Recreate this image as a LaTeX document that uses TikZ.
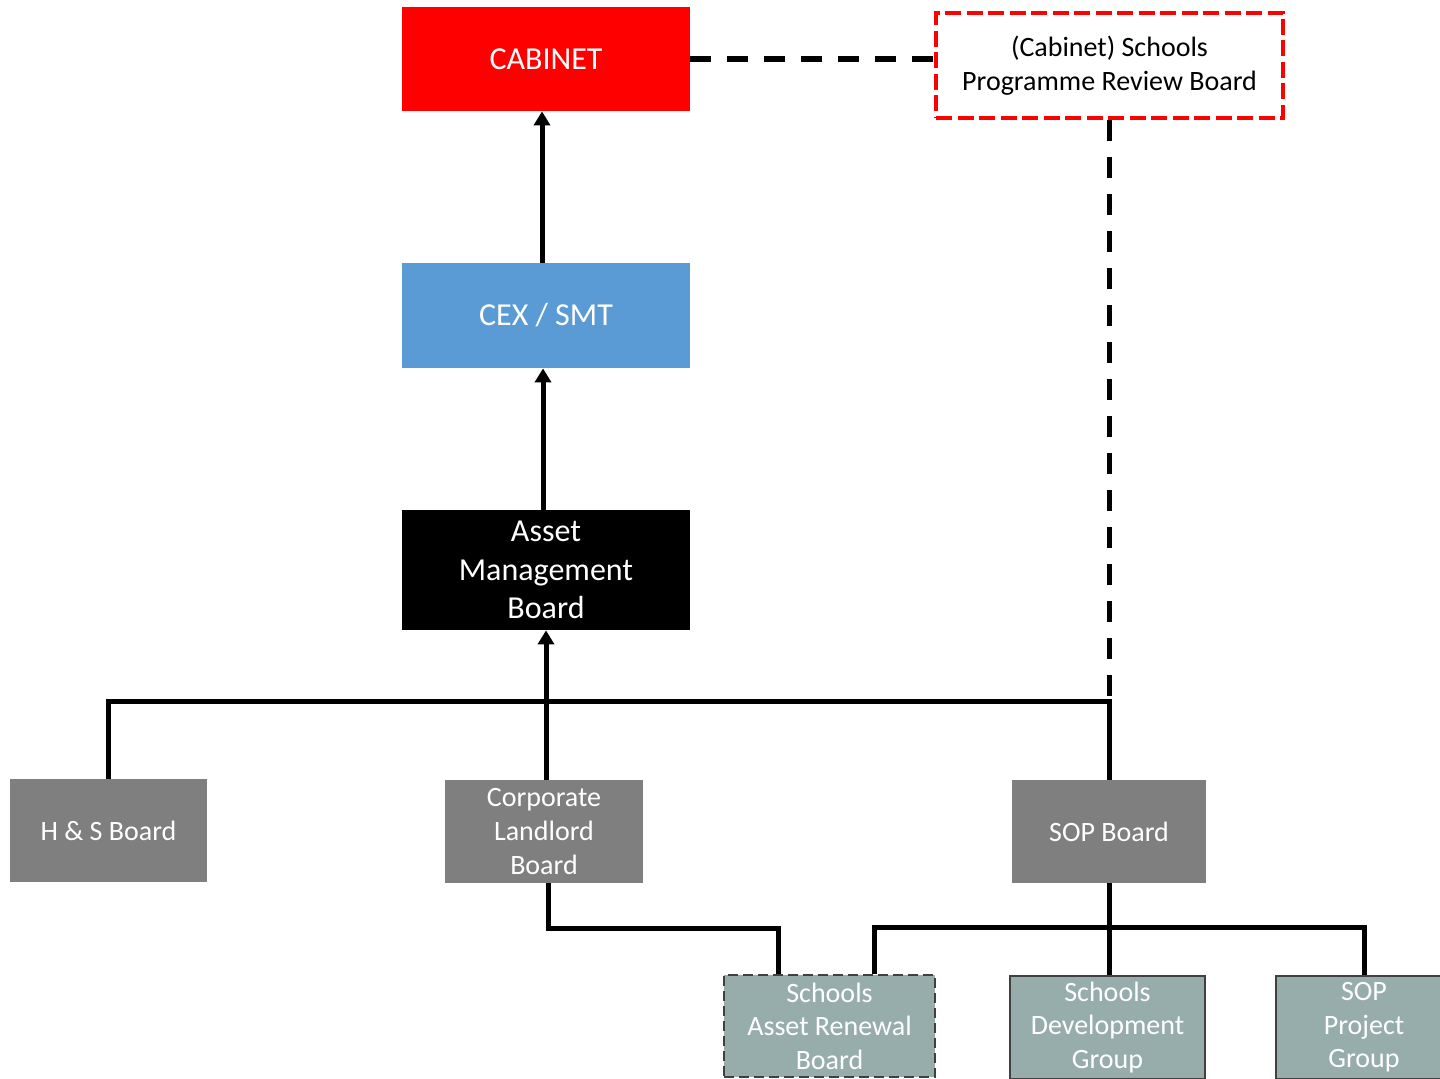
\documentclass[tikz,border=0pt]{standalone}
\usepackage{fontspec}
\setmainfont{Carlito}
\usetikzlibrary{arrows.meta}

\definecolor{cabred}{HTML}{FF0000}
\definecolor{cexblue}{HTML}{5B9BD5}
\definecolor{boardgray}{HTML}{7F7F7F}
\definecolor{groupteal}{HTML}{97ADAC}
\definecolor{groupedge}{HTML}{404040}

\tikzset{
  box/.style={rectangle, inner sep=0pt, align=center, text=white},
  bigtext/.style={font=\fontsize{16}{19.2}\selectfont},
  smalltext/.style={font=\fontsize{14}{16.8}\selectfont},
  board/.style={box, smalltext, fill=boardgray},
  groupbox/.style={box, smalltext, fill=groupteal, draw=groupedge, line width=1.2pt},
  link/.style={line width=2.5pt, draw=black},
  uplink/.style={link, -{Triangle[width=8pt,length=7pt]}},
  dashlink/.style={line width=2.6pt, draw=black, dash pattern=on 10.5pt off 8pt},
}

\begin{document}
\begin{tikzpicture}[x=0.5pt,y=-0.5pt]
  \useasboundingbox (0,0) rectangle (1440,1079);

  % top level
  \node[box, bigtext, fill=cabred, minimum width=144pt, minimum height=52pt]
    (cab) at (546,59) {CABINET};
  \node[box, smalltext, text=black, fill=white, draw=cabred, line width=2.2pt,
        dash pattern=on 8pt off 2.75pt, minimum width=173.5pt, minimum height=52.5pt]
    (rev) at (1109.5,65.5) {(Cabinet) Schools\\Programme Review Board};
  \node[box, bigtext, fill=cexblue, minimum width=144pt, minimum height=52.5pt]
    (cex) at (546,315.5) {CEX / SMT};
  \node[box, bigtext, fill=black, minimum width=144pt, minimum height=60pt]
    (amb) at (546,570) {Asset\\Management\\Board};

  % boards
  \node[board, minimum width=98.5pt, minimum height=51.5pt]
    (hs) at (108.5,830.5) {H \& S Board};
  \node[board, minimum width=99pt, minimum height=51.5pt]
    (cl) at (544,831.5) {Corporate\\Landlord\\Board};
  \node[board, minimum width=97pt, minimum height=51.5pt]
    (sop) at (1109,831.5) {SOP Board};

  % groups
  \node[groupbox, dash pattern=on 5pt off 2.5pt, minimum width=105.5pt, minimum height=51pt]
    (sarb) at (829.5,1026) {Schools\\Asset Renewal\\Board};
  \node[groupbox, minimum width=97.5pt, minimum height=51.5pt]
    (sdg) at (1107.5,1027.5) {Schools\\Development\\Group};
  \node[groupbox, minimum width=88pt, minimum height=51.5pt]
    (sopg) at (1364,1027.5) {SOP\\Project\\Group};

  % reporting lines
  \draw[uplink] ([xshift=-2pt]cex.north) -- ([xshift=-2pt]cab.south);
  \draw[uplink] ([xshift=-1.5pt]amb.north) -- ([xshift=-1.5pt]cex.south);
  \draw[uplink] ([xshift=1pt]cl.north) -- (amb.south);

  % board bus
  \coordinate (bus) at (0,701);
  \draw[link] (hs.north) |- (bus -| sop.north) -- (sop.north);

  % advisory links
  \draw[dashlink] (cab.east) -- (cab.east -| rev.west);
  \draw[dashlink] (rev.south) -- (rev.south |- bus);

  % lower links
  \draw[link] ([xshift=2pt]cl.south) -- ++(0,45) -| ([xshift=-25.75pt]sarb.north);
  \draw[link] (sop.south) -- (sop.south |- sdg.north);
  \draw[link] ([xshift=22.25pt]sarb.north) -- ++(0,-46) -| (sopg.north);
\end{tikzpicture}
\end{document}
